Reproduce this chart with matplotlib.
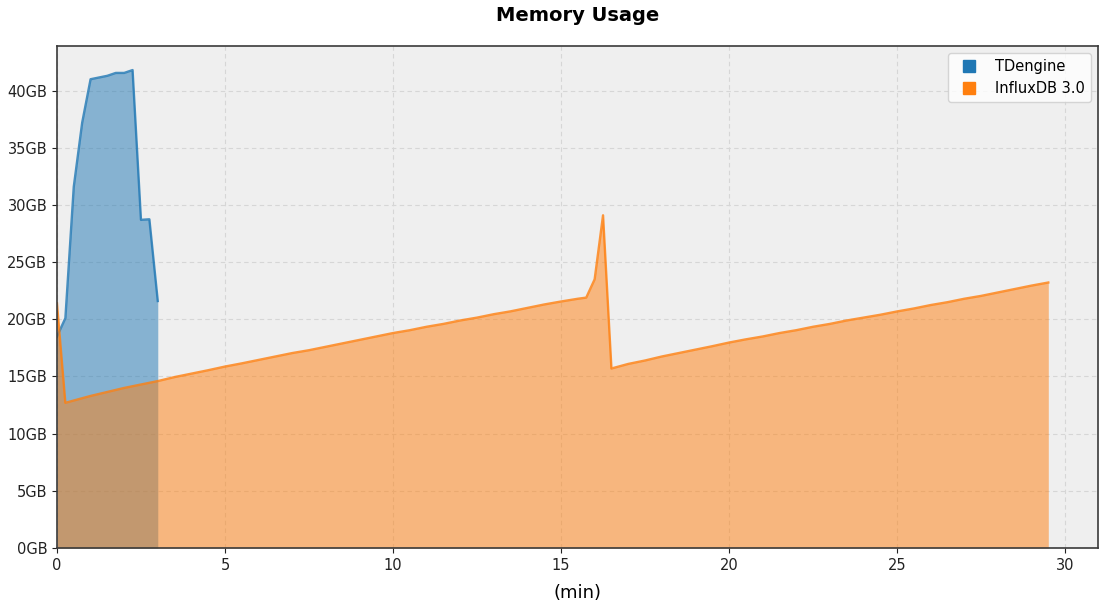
import matplotlib.pyplot as plt
from matplotlib.lines import Line2D
from matplotlib.ticker import FuncFormatter

# TDengine memory (GB) over time (min)
td_time = [0, 0.25, 0.5, 0.75, 1.0, 1.25, 1.5, 1.75, 2.0, 2.25, 2.5, 2.75, 3.0]
td_mem = [18.5, 20.1, 31.6, 37.2, 41.0, 41.15, 41.3, 41.55, 41.55, 41.8, 28.7, 28.75, 21.6]

# InfluxDB 3.0 memory (GB) over time (min)
influx_time = [0, 0.25, 0.5, 1.0, 1.5, 2.0, 2.5, 3.0, 3.5, 4.0, 4.5, 5.0, 5.5, 6.0,
               6.5, 7.0, 7.5, 8.0, 8.5, 9.0, 9.5, 10.0, 10.5, 11.0, 11.5, 12.0,
               12.5, 13.0, 13.5, 14.0, 14.5, 15.0, 15.5, 15.75, 16.0, 16.25, 16.5,
               17.0, 17.5, 18.0, 18.5, 19.0, 19.5, 20.0, 20.5, 21.0, 21.5, 22.0,
               22.5, 23.0, 23.5, 24.0, 24.5, 25.0, 25.5, 26.0, 26.5, 27.0, 27.5,
               28.0, 28.5, 29.0, 29.5]
influx_mem = [21.4, 12.7, 12.9, 13.3, 13.65, 14.0, 14.3, 14.6, 14.95, 15.25, 15.55,
              15.87, 16.15, 16.45, 16.75, 17.05, 17.3, 17.6, 17.9, 18.2, 18.5, 18.8,
              19.05, 19.35, 19.6, 19.9, 20.15, 20.45, 20.7, 21.0, 21.3, 21.56, 21.8,
              21.9, 23.5, 29.1, 15.7, 16.1, 16.4, 16.75, 17.05, 17.35, 17.65, 17.97,
              18.25, 18.5, 18.8, 19.05, 19.35, 19.6, 19.9, 20.15, 20.4, 20.69, 20.95,
              21.25, 21.5, 21.8, 22.05, 22.35, 22.65, 22.95, 23.22]

fig = plt.figure(figsize=(11.04, 6.06), dpi=100)
ax = fig.add_axes([0.0516, 0.0957, 0.943, 0.8283])
ax.set_facecolor("#efefef")

ax.fill_between(td_time, td_mem, color="#1f77b4", alpha=0.5, linewidth=0)
ax.plot(td_time, td_mem, color="#1f77b4", linewidth=1.7, alpha=0.8)
ax.fill_between(influx_time, influx_mem, color="#ff7f0e", alpha=0.5, linewidth=0)
ax.plot(influx_time, influx_mem, color="#ff7f0e", linewidth=1.7, alpha=0.8)

ax.set_xlim(0, 30.98)
ax.set_ylim(0, 43.9)
ax.set_yticks(range(0, 45, 5))
ax.yaxis.set_major_formatter(FuncFormatter(lambda v, p: f"{int(v)}GB"))
ax.grid(True, linestyle=(0, (4, 3)), color="#d6d6d6", linewidth=0.8)
ax.set_axisbelow(True)
for s in ax.spines.values():
    s.set_color("#3a3a3a")
    s.set_linewidth(1.2)
ax.tick_params(labelsize=10.5, colors="#222222")

ax.set_title("Memory Usage", fontsize=14, fontweight="bold", pad=18)
ax.set_xlabel("(min)", fontsize=13, labelpad=8)

handles = [Line2D([], [], marker="s", linestyle="none", color="#1f77b4", markersize=8),
           Line2D([], [], marker="s", linestyle="none", color="#ff7f0e", markersize=8)]
ax.legend(handles, ["TDengine", "InfluxDB 3.0"], loc="upper right", fontsize=10.5,
          handletextpad=0.8)

fig.savefig("out.png", dpi=100)
